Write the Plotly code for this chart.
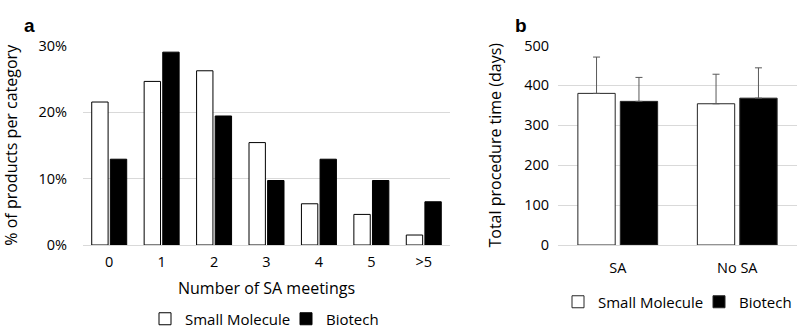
import plotly.graph_objects as go

W, H = 797, 329

# Panel a data
meetings = ["0", "1", "2", "3", "4", "5", ">5"]
small_molecule_pct = [21.5, 24.6, 26.2, 15.4, 6.2, 4.6, 1.5]
biotech_pct = [12.9, 29.0, 19.4, 9.7, 12.9, 9.7, 6.5]

# Panel b data
sa_groups = ["SA", "No SA"]
small_molecule_days = [380, 354]
biotech_days = [360, 368]
small_molecule_err = [91, 74]
biotech_err = [60, 76]

FONT = "Open Sans"
GRID = "#d9d9d9"
TXT = "#000000"

fig = go.Figure()

fig.add_trace(go.Bar(
    x=meetings, y=small_molecule_pct, name="Small Molecule",
    marker=dict(color="white", line=dict(color="black", width=1)),
    xaxis="x", yaxis="y", legend="legend",
))
fig.add_trace(go.Bar(
    x=meetings, y=biotech_pct, name="Biotech",
    marker=dict(color="black", line=dict(color="black", width=1)),
    xaxis="x", yaxis="y", legend="legend",
))

fig.add_trace(go.Bar(
    x=sa_groups, y=small_molecule_days, name="Small Molecule",
    marker=dict(color="white", line=dict(color="#262626", width=1)),
    error_y=dict(type="data", array=small_molecule_err, arrayminus=[0, 0],
                 symmetric=False, color="#595959", thickness=1, width=3.5),
    xaxis="x2", yaxis="y2", legend="legend2",
))
fig.add_trace(go.Bar(
    x=sa_groups, y=biotech_days, name="Biotech",
    marker=dict(color="black", line=dict(color="#262626", width=1)),
    error_y=dict(type="data", array=biotech_err, arrayminus=[0, 0],
                 symmetric=False, color="#595959", thickness=1, width=3.5),
    xaxis="x2", yaxis="y2", legend="legend2",
))

y0 = (H - 245) / H
y1 = (H - 45.5) / H

axis_font = dict(family=FONT, size=14.5, color=TXT)
title_font = dict(family=FONT, size=16, color=TXT)
legend_font = dict(family=FONT, size=15, color=TXT)

fig.update_layout(
    width=W, height=H,
    margin=dict(l=0, r=0, t=0, b=0, autoexpand=False),
    paper_bgcolor="white", plot_bgcolor="white",
    barmode="group", bargap=0.29, bargroupgap=0.12,
    font=dict(family=FONT, color=TXT),
    xaxis=dict(domain=[83 / W, 450 / W], anchor="y", showgrid=False, automargin=False,
               showline=True, linecolor=GRID, linewidth=1,
               tickfont=axis_font, ticks="", ticklabelstandoff=4,
               title=dict(text="Number of SA meetings", font=title_font, standoff=12)),
    yaxis=dict(domain=[y0, y1], anchor="x", range=[0, 30], dtick=10, automargin=False,
               ticksuffix="%", showgrid=True, gridcolor=GRID, gridwidth=1,
               zeroline=False, tickfont=axis_font, ticks="", ticklabelstandoff=15,
               title=dict(text="% of products per category", font=title_font, standoff=20)),
    xaxis2=dict(domain=[558 / W, 1.0], anchor="y2", showgrid=False, automargin=False,
                showline=True, linecolor=GRID, linewidth=1,
                tickfont=axis_font, ticks="", ticklabelstandoff=10),
    yaxis2=dict(domain=[y0, y1], anchor="x2", range=[0, 500], dtick=100, automargin=False,
                showgrid=True, gridcolor=GRID, gridwidth=1, zeroline=False,
                tickfont=axis_font, ticks="", ticklabelstandoff=8,
                title=dict(text="Total procedure time (days)", font=title_font, standoff=18)),
    legend=dict(orientation="h", x=286 / W, y=(H - 319) / H, xanchor="center", yanchor="middle",
                font=legend_font, bgcolor="rgba(0,0,0,0)",
                itemwidth=30, tracegroupgap=0, entrywidth=96, entrywidthmode="pixels"),
    legend2=dict(orientation="h", x=699 / W, y=(H - 302) / H, xanchor="center", yanchor="middle",
                 font=legend_font, bgcolor="rgba(0,0,0,0)",
                 itemwidth=30, tracegroupgap=0, entrywidth=96, entrywidthmode="pixels"),
    annotations=[
        dict(text="<b>a</b>", x=22 / W, y=(H - 13) / H, xref="paper", yref="paper",
             xanchor="left", showarrow=False,
             font=dict(family="Liberation Sans", size=19, color=TXT)),
        dict(text="<b>b</b>", x=513 / W, y=(H - 13) / H, xref="paper", yref="paper",
             xanchor="left", showarrow=False,
             font=dict(family="Liberation Sans", size=19, color=TXT)),
    ],
)

fig.write_html("out.html", config={"displayModeBar": False},
               post_script="document.body.style.margin='0';")
